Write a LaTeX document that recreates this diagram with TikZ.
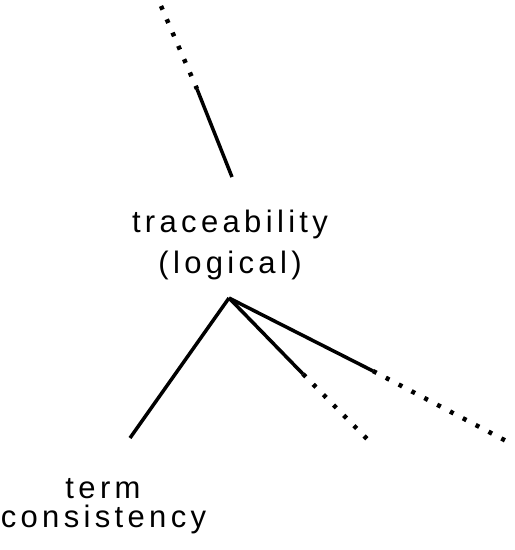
\documentclass[tikz,border=0pt]{standalone}
\usepackage{fontspec}
\setmainfont{Liberation Sans}
\newfontfamily\spaced[LetterSpace=14]{Liberation Sans}
\begin{document}
\begin{tikzpicture}[x=1pt,y=-1pt,
  solidline/.style={line width=3.5pt},
  dotline/.style={line width=4.5pt,dash pattern=on 4pt off 10.5pt},
  lbl/.style={font=\spaced\fontsize{31}{37}\selectfont,inner sep=0pt,anchor=base}]
\useasboundingbox (0,0) rectangle (515,550);
\coordinate (t0) at (161,6);
\coordinate (t1) at (197,89);
\coordinate (t2) at (232,177);
\coordinate (apex) at (229,298);
\coordinate (l1) at (130,438);
\coordinate (m1) at (303,374);
\coordinate (m2) at (373,445);
\coordinate (r1) at (373,371);
\coordinate (r2) at (510,443);
\node[lbl] (trace) at (230,232) {traceability};
\node[lbl] (logical) at (230,273) {(logical)};
\node[lbl] (term) at (103,498) {term};
\node[lbl] (consist) at (103.5,527) {consistency};
\draw[dotline] (t0) -- (t1);
\draw[solidline] (t1) -- (t2);
\draw[solidline] (apex) -- (l1);
\draw[solidline] (apex) -- (m1);
\draw[dotline] (m1) -- (m2);
\draw[solidline] (apex) -- (r1);
\draw[dotline] (r1) -- (r2);
\end{tikzpicture}
\end{document}
